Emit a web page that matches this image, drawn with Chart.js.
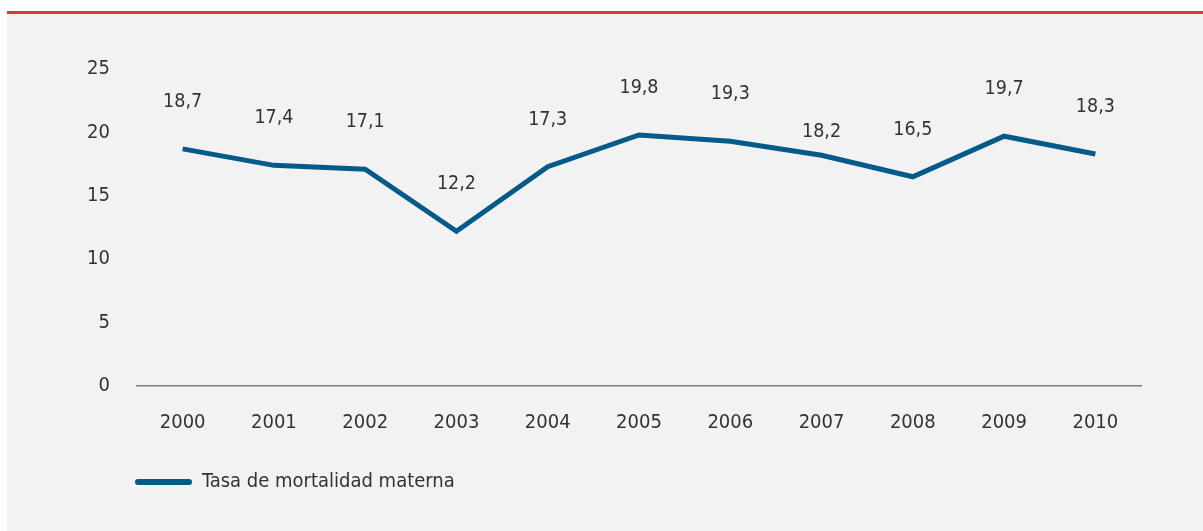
<!DOCTYPE html>
<html>
<head>
<meta charset="utf-8">
<script src="https://cdn.jsdelivr.net/npm/chart.js@4"></script>
<style>
    html, body { margin: 0; padding: 0; background: #ffffff; }
    #panel {
        position: absolute;
        left: 7px; top: 11px;
        width: 1196px; height: 520px;
        background: #f2f2f2;
        border-top: 3px solid #d9392f;
        box-sizing: border-box;
    }
    #chart { display: block; }
</style>
</head>
<body>
<div id="panel"><canvas id="chart" width="1196" height="517"></canvas></div>
<script>
// データ
const years = ['2000', '2001', '2002', '2003', '2004', '2005', '2006', '2007', '2008', '2009', '2010'];
const mortalidad = [18.7, 17.4, 17.1, 12.2, 17.3, 19.8, 19.3, 18.2, 16.5, 19.7, 18.3];
const yTicks = [0, 5, 10, 15, 20, 25];
const seriesName = 'Tasa de mortalidad materna';

const FONT = "'Liberation Sans Narrow', 'DejaVu Sans Condensed', 'Open Sans', sans-serif";
const TEXT = '#333333';
const BLUE = '#045a89';

// 値ラベル（点の上に表示）
const valueLabels = {
    id: 'valueLabels',
    afterDatasetsDraw(chart) {
        const ctx = chart.ctx;
        const meta = chart.getDatasetMeta(0);
        ctx.save();
        ctx.font = `19.5px ${FONT}`;
        ctx.fillStyle = TEXT;
        ctx.textAlign = 'center';
        ctx.textBaseline = 'middle';
        meta.data.forEach((pt, i) => {
            // 2007 は線と重ならないよう低めに置かれている
            const lift = years[i] === '2007' ? 23 : 47;
            const txt = mortalidad[i].toFixed(1).replace('.', ',');
            ctx.fillText(txt, pt.x, pt.y - lift);
        });
        ctx.restore();
    }
};

// 凡例を軸の左端にそろえる
const legendShift = {
    id: 'legendShift',
    afterLayout(chart) {
        chart.legend.left = chart.chartArea.left - 12;
    }
};

new Chart(document.getElementById('chart'), {
    type: 'line',
    data: {
        labels: years,
        datasets: [{
            label: seriesName,
            data: mortalidad,
            borderColor: BLUE,
            backgroundColor: BLUE,
            borderWidth: 5,
            pointRadius: 0,
            tension: 0,
            fill: false
        }]
    },
    options: {
        responsive: false,
        animation: false,
        layout: { padding: { top: 55, right: 62, bottom: 29, left: 0 } },
        plugins: {
            legend: {
                display: true,
                position: 'bottom',
                align: 'start',
                labels: {
                    color: TEXT,
                    font: { size: 20, family: FONT },
                    boxWidth: 57,
                    boxHeight: 6,
                    useBorderRadius: true,
                    borderRadius: 3,
                    padding: 10,
                    generateLabels: (chart) => [{
                        text: seriesName,
                        fillStyle: BLUE,
                        strokeStyle: BLUE,
                        lineWidth: 0,
                        borderRadius: 3,
                        fontColor: TEXT,
                        datasetIndex: 0
                    }]
                }
            },
            tooltip: { enabled: false }
        },
        scales: {
            x: {
                offset: true,
                grid: { display: false, drawTicks: false },
                border: { display: true, color: '#7d7d7d', width: 1.5 },
                ticks: {
                    color: TEXT,
                    font: { size: 20, family: FONT },
                    padding: 25,
                    maxRotation: 0
                },
                afterFit: (scale) => { scale.height = 76; }
            },
            y: {
                min: 0,
                max: 25,
                grid: { display: false, drawTicks: false },
                border: { display: false },
                afterBuildTicks: (scale) => { scale.ticks = yTicks.map(v => ({ value: v })); },
                ticks: {
                    color: TEXT,
                    font: { size: 20, family: FONT },
                    padding: 27
                },
                afterFit: (scale) => { scale.width = 130; }
            }
        }
    },
    plugins: [valueLabels, legendShift]
});
</script>
</body>
</html>
